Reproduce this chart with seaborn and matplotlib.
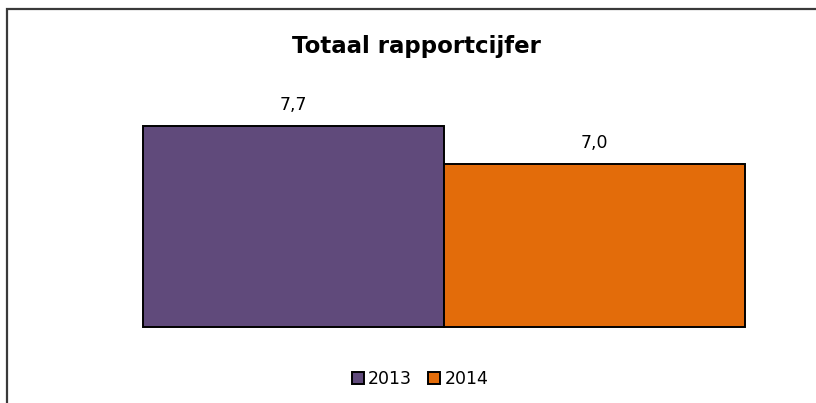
import matplotlib
matplotlib.use("Agg")
import matplotlib.pyplot as plt
import seaborn as sns
import pandas as pd
from matplotlib.patches import Rectangle, Patch

sns.set_theme(style="white")
plt.rcParams['font.family'] = ['DejaVu Sans']
plt.rcParams['text.color'] = 'black'

title = "Totaal rapportcijfer"
category = ["Totaal", "Totaal"]
years = ["2013", "2014"]
values = [7.7, 7.0]
colors = ["#604a7b", "#e36c0a"]
y_min, y_max = 4.0, 9.0

df = pd.DataFrame({"cat": category, "year": years, "value": values})

W, H = 816, 403
fig = plt.figure(figsize=(W / 100, H / 100), dpi=100)

# axes placement (pixels)
left, right, base = 143, 745, 327
k = 54.3  # px per unit
top = base - (y_max - y_min) * k
ax = fig.add_axes([left / W, 1 - base / H, (right - left) / W, (base - top) / H])

sns.barplot(data=df, x="cat", y="value", hue="year", palette=colors,
            width=1.0, dodge=True, edgecolor="black", linewidth=1.4,
            legend=False, ax=ax, saturation=1)
ax.set_ylim(y_min, y_max)
ax.set_xlim(-0.5, 0.5)
ax.axis("off")
# bars start at the axis minimum (value axis does not start at 0)
for p in ax.patches:
    h = p.get_y() + p.get_height()
    p.set_y(y_min)
    p.set_height(h - y_min)
    p.set_clip_on(False)

for cont in ax.containers:
    ax.bar_label(cont, labels=[f"{v:.1f}".replace(".", ",") for v in cont.datavalues],
                 padding=9, fontsize=12.5, color="black")

fig.text(416 / W, 1 - 53.5 / H, title, ha="center", va="baseline",
         fontsize=16.5, fontweight="bold", color="black")

handles = [Patch(facecolor=c, edgecolor="black", linewidth=1.4, fill=True) for c in colors]
leg = fig.legend(handles, years, loc="center", bbox_to_anchor=(420 / W, 1 - 379 / H),
                 ncol=2, frameon=False, fontsize=12.5, handlelength=0.7, handleheight=0.7,
                 handletextpad=0.25, columnspacing=0.9)
for t in leg.get_texts():
    t.set_color("black")

# outer frame (top and left visible)
fig.patches.append(Rectangle((7 / W, -0.1), 1.2, 1 - 9 / H + 0.1, transform=fig.transFigure,
                             fill=False, edgecolor="#3a3a3a", linewidth=1.6, figure=fig))

fig.savefig("out.png", dpi=100)
